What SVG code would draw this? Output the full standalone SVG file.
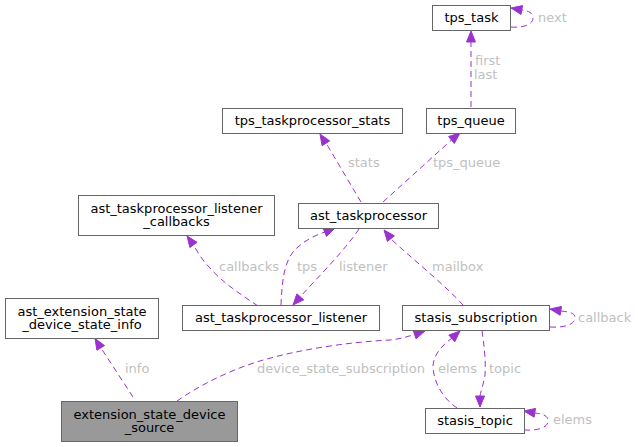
<svg xmlns="http://www.w3.org/2000/svg" width="638" height="447" viewBox="0 0 638 447">
<defs>
<style>
.node rect{fill:#ffffff;stroke:#666666;stroke-width:1}
.node.hl rect{fill:#999999}
.node text{font-family:"DejaVu Sans",sans-serif;font-size:13px;fill:#000000;text-anchor:middle}
.edges path.e{fill:none;stroke:#9a32cd;stroke-width:1;stroke-dasharray:6,4}
.edges polygon{fill:#9a32cd;stroke:#9a32cd;stroke-width:1}
.edges text{font-family:"DejaVu Sans",sans-serif;font-size:13px;fill:#bfbfbf}
</style>
</defs>
<rect width="638" height="447" fill="#ffffff"/>
<g class="edges" id="edges">
<!-- tps_task self loop -->
<path class="e" d="M511,27 C522,28 533,25 533,18 C533,13 529,11 522,10"/>
<polygon points="511,8 522.6,5.6 521,14.4"/>
<text x="538" y="22">next</text>
<!-- tps_queue -> tps_task -->
<path class="e" d="M471,107 L471,42"/>
<polygon points="471,31 466.5,42 475.5,42"/>
<text x="475" y="65">first</text>
<text x="474" y="79">last</text>
<!-- stats -->
<path class="e" d="M361,202 L326,143"/>
<polygon points="320,134 329.7,140.9 322.1,145.7"/>
<text x="348" y="167">stats</text>
<!-- tps_queue -->
<path class="e" d="M383,202 L451.5,140"/>
<polygon points="460,133 454.3,143.5 448.6,136.5"/>
<text x="433" y="167">tps_queue</text>
<!-- callbacks -->
<path class="e" d="M258,306 C240,294 222,282 210,268 C203,261 198,253 193.5,245"/>
<polygon points="187,236 197.1,242.3 189.9,247.5"/>
<text x="219" y="271">callbacks</text>
<!-- tps -->
<path class="e" d="M281,305 C282,285 283,265 293,252 C300,244 310,237 325,232"/>
<polygon points="335,228 326.5,236.4 323.1,228"/>
<text x="297" y="271">tps</text>
<!-- listener -->
<path class="e" d="M359,229 C345,250 320,275 300,297"/>
<polygon points="293,305 303.7,299.8 296.9,293.8"/>
<text x="339" y="271">listener</text>
<!-- mailbox -->
<path class="e" d="M463,305 C445,285 410,257 391,239"/>
<polygon points="384,230 394.4,235.8 387.4,241.4"/>
<text x="432" y="271">mailbox</text>
<!-- stasis_subscription self loop -->
<path class="e" d="M550,327 C562,328 575,325 575,318 C575,313 570,312 561,311"/>
<polygon points="550,309 561.5,306.4 560.1,315.2"/>
<text x="578" y="322">callback</text>
<!-- topic -->
<path class="e" d="M482,331 C484,345 486,360 485,375 C484,383 481,390 480,396"/>
<polygon points="480,407 475.5,396 484.5,396"/>
<text x="489" y="373">topic</text>
<!-- elems stasis_topic -> stasis_subscription -->
<path class="e" d="M457,408 C445,400 434,385 433,367 C433,356 441,346 452,338"/>
<polygon points="460,331 454.8,341.7 448.8,335.1"/>
<text x="438" y="373">elems</text>
<!-- stasis_topic self loop -->
<path class="e" d="M524,430 C536,431 548,428 548,421 C548,416 544,414 535,413"/>
<polygon points="524,411 535.5,408.4 534.1,417.2"/>
<text x="553" y="424">elems</text>
<!-- info -->
<path class="e" d="M133,397 L101,348"/>
<polygon points="95,338.5 104.5,345.6 96.9,350.2"/>
<text x="125" y="373">info</text>
<!-- device_state_subscription -->
<path class="e" d="M177,401 C200,385 230,370 260,361 C300,349 350,342 390,340 C400,339 406,337 414.6,334.5"/>
<polygon points="425,331 416,338.8 413.2,330.2"/>
<text x="257" y="373">device_state_subscription</text>
</g>
<g class="node" id="tps_task"><rect x="432.5" y="5.5" width="78" height="25"/><text x="471.5" y="22">tps_task</text></g>
<g class="node" id="tps_queue"><rect x="426.5" y="108.5" width="89" height="25"/><text x="471" y="125">tps_queue</text></g>
<g class="node" id="tps_taskprocessor_stats"><rect x="222.5" y="108.5" width="180" height="25"/><text x="312.5" y="125">tps_taskprocessor_stats</text></g>
<g class="node" id="ast_taskprocessor"><rect x="298.5" y="203.5" width="140" height="25"/><text x="368.5" y="220">ast_taskprocessor</text></g>
<g class="node" id="ast_taskprocessor_listener_callbacks"><rect x="78.5" y="195.5" width="196" height="40"/><text x="176.5" y="212.5">ast_taskprocessor_listener</text><text x="176.5" y="226">_callbacks</text></g>
<g class="node" id="ast_taskprocessor_listener"><rect x="182.5" y="305.5" width="197" height="25"/><text x="281" y="322">ast_taskprocessor_listener</text></g>
<g class="node" id="ast_extension_state_device_state_info"><rect x="5.5" y="298.5" width="153" height="40"/><text x="82" y="315.5">ast_extension_state</text><text x="82" y="329">_device_state_info</text></g>
<g class="node" id="stasis_subscription"><rect x="402.5" y="305.5" width="147" height="25"/><text x="476" y="322">stasis_subscription</text></g>
<g class="node" id="stasis_topic"><rect x="425.5" y="408.5" width="99" height="25"/><text x="475" y="425">stasis_topic</text></g>
<g class="node hl" id="extension_state_device_source"><rect x="61.5" y="401.5" width="176" height="40"/><text x="149.5" y="418.5">extension_state_device</text><text x="149.5" y="432">_source</text></g>
</svg>
